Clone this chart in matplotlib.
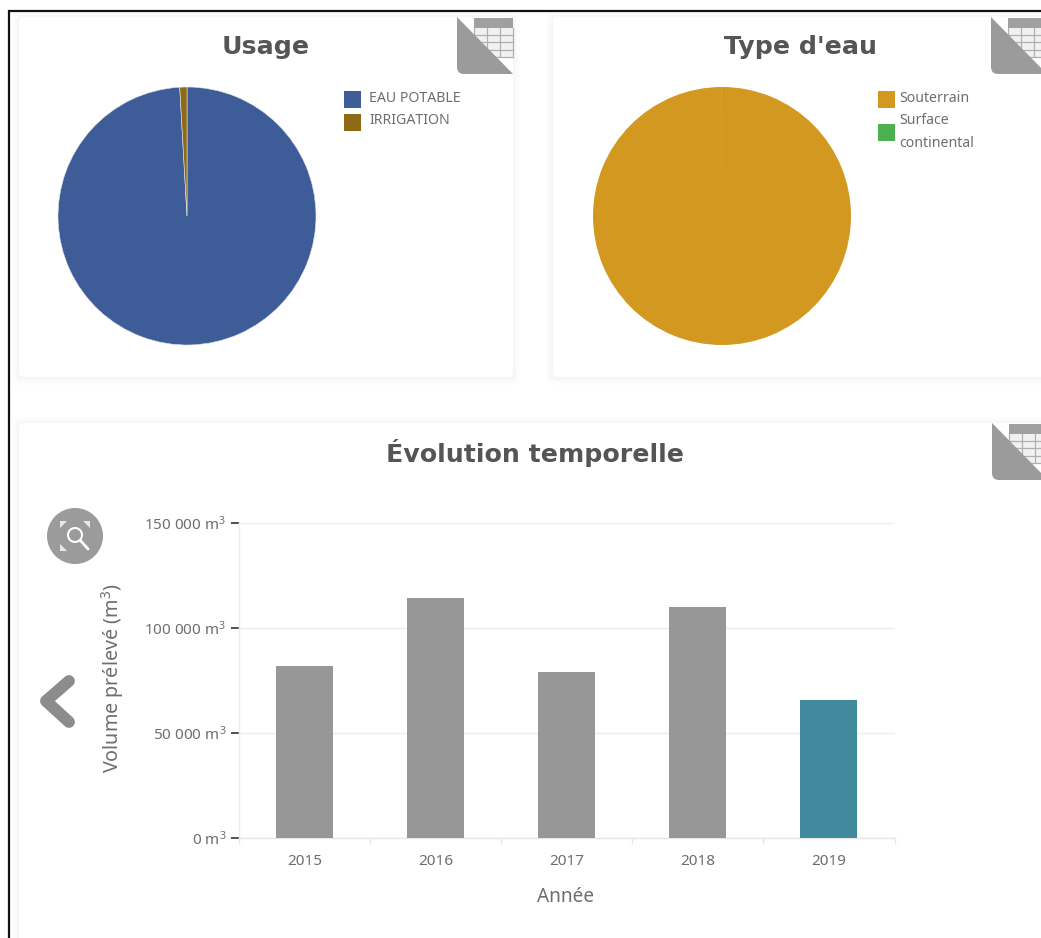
import matplotlib
matplotlib.use('Agg')
import matplotlib.pyplot as plt
from matplotlib.patches import Circle, FancyBboxPatch, Polygon, Rectangle

W, H = 1041, 938

usage_labels = ['EAU POTABLE', 'IRRIGATION']
usage_values = [99.1, 0.9]
usage_colors = ['#3d5c98', '#8f6a14']

water_labels = ['Souterrain', 'Surface\ncontinental']
water_values = [99.98, 0.02]
water_colors = ['#d3981f', '#4caf50']

years = ['2015', '2016', '2017', '2018', '2019']
volumes = [81900, 114300, 79000, 110000, 65700]
bar_colors = ['#979797', '#979797', '#979797', '#979797', '#418a9d']
y_ticks = [0, 50000, 100000, 150000]
y_tick_labels = ['0 m$^3$', '50 000 m$^3$', '100 000 m$^3$', '150 000 m$^3$']

TEXT = '#6e6e6e'
TITLE = '#555555'
GREY = '#9b9b9b'

plt.rcParams['mathtext.default'] = 'regular'
plt.rcParams['font.family'] = ['Noto Sans', 'DejaVu Sans']


def px_axes(left, top, right, bottom):
    # axes placed from pixel coordinates, y counted from the top
    return fig.add_axes([left / W, 1 - bottom / H, (right - left) / W, (bottom - top) / H])


def card(x0, y0, x1, y1):
    # soft shadow made of stacked translucent boxes
    for grow, alpha in [(7, 0.006), (5, 0.008), (3, 0.010), (1, 0.012)]:
        bg.add_patch(FancyBboxPatch((x0 - grow, y0 - grow + 1), x1 - x0 + 2 * grow, y1 - y0 + 2 * grow,
                                    boxstyle='round,pad=0,rounding_size=6', fc='black', ec='none',
                                    alpha=alpha, zorder=1))
    bg.add_patch(FancyBboxPatch((x0, y0), x1 - x0, y1 - y0, boxstyle='round,pad=0,rounding_size=5',
                                fc='white', ec='none', zorder=2))


def table_icon(x, y):
    # folded corner with a small table behind it
    bg.add_patch(Rectangle((x + 17, y + 1), 39, 10, fc='#a0a0a0', ec='none', zorder=3))
    bg.add_patch(Rectangle((x + 17, y + 11), 39, 29, fc='#f1f1f1', ec='none', zorder=3))
    for k in range(1, 5):
        bg.plot([x + 17, x + 56], [y + 11 + k * 7.2] * 2, color='#b0b0b0', lw=0.9, zorder=4)
    for k in range(0, 4):
        bg.plot([x + 17 + k * 13] * 2, [y + 11, y + 40], color='#b0b0b0', lw=0.9, zorder=4)
    fold = FancyBboxPatch((x, y - 10), 70, 67, boxstyle='round,pad=0,rounding_size=7',
                          fc=GREY, ec='none', zorder=5)
    bg.add_patch(fold)
    fold.set_clip_path(Polygon([(x, y), (x + 56, y + 57), (x, y + 57)], closed=True, transform=bg.transData))


def legend(x, rows, labels, colors, text_x):
    for (sq_y, txt_y), label, color in zip(rows, labels, colors):
        bg.add_patch(Rectangle((x, sq_y), 17, 17, fc=color, ec='none', zorder=3))
        bg.text(text_x, txt_y, label, fontsize=10.2, color=TEXT, va='center', ha='left',
                linespacing=1.65, zorder=3)


def pie(cx, cy, r, values, colors, edge='none'):
    ax = px_axes(cx - r, cy - r, cx + r, cy + r)
    ax.pie(values, colors=colors, startangle=90, counterclock=False, radius=1,
           wedgeprops={'linewidth': 0.4 if edge != 'none' else 0, 'edgecolor': edge})
    ax.set_xlim(-1, 1)
    ax.set_ylim(-1, 1)
    ax.patch.set_alpha(0)


fig = plt.figure(figsize=(W / 100, H / 100), dpi=100, facecolor='white')

bg = fig.add_axes([0, 0, 1, 1])
bg.set_xlim(0, W)
bg.set_ylim(H, 0)
bg.axis('off')

# page frame
bg.plot([9, 9, W + 5], [H + 5, 11, 11], color='#111111', lw=1.6, solid_joinstyle='miter', zorder=6)

card(19, 17, 513, 377)
card(553, 17, W + 30, 377)
card(19, 423, W + 30, H + 30)

table_icon(457, 17)
table_icon(991, 17)
table_icon(992, 423)

title_font = {'fontsize': 18.2, 'fontweight': 'bold', 'color': TITLE, 'ha': 'center', 'va': 'center',
              'family': 'DejaVu Sans', 'zorder': 3}
bg.text(266, 47, 'Usage', **title_font)
bg.text(801, 47, "Type d'eau", **title_font)
bg.text(535, 453, 'Évolution temporelle', **title_font)

pie(187, 216, 129, usage_values, usage_colors, edge='#dfe4ee')
pie(722, 216, 129, water_values, water_colors)

legend(344, [(91, 99), (114, 121)], usage_labels, usage_colors, 369)
legend(878, [(91, 99), (124, 132)], water_labels, water_colors, 899)

# zoom button
bg.add_patch(Circle((75, 536), 28, fc=GREY, ec='none', zorder=3))
bg.add_patch(Circle((75, 535), 7, fc='none', ec='white', lw=1.5, zorder=4))
bg.plot([80, 88], [540, 549], color='white', lw=2, solid_capstyle='round', zorder=4)
for tip, a, b in [((60, 521), (60, 528), (67, 521)),
                  ((90, 521), (90, 528), (83, 521)),
                  ((60, 551), (60, 544), (67, 551))]:
    bg.add_patch(Polygon([tip, a, b], closed=True, fc='#e8e8e8', ec='none', zorder=4))

# back arrow
bg.plot([69, 46, 69], [681, 701, 722], color='#8c8c8c', lw=8.5, solid_capstyle='round',
        solid_joinstyle='round', zorder=3)

# bar chart, y = 0 at pixel 838 and 150 000 at pixel 523
ax = px_axes(239, 523, 894.5, 838)
positions = list(range(len(years)))
ax.bar(positions, volumes, width=0.435, color=bar_colors, zorder=3)
ax.set_xlim(-0.5, 4.5)
ax.set_ylim(0, 150000)
ax.patch.set_alpha(0)

ax.set_yticks(y_ticks)
ax.set_yticklabels(y_tick_labels, fontsize=11, color=TEXT)
ax.tick_params(axis='y', length=5.8, width=1.1, color='#222222', pad=3.4)
ax.grid(axis='y', color='#ececec', lw=1, zorder=0)

ax.set_xticks(positions)
ax.set_xticklabels(years, fontsize=11, color=TEXT)
ax.tick_params(axis='x', length=0, pad=11.5)
ax.set_xticks([p - 0.5 for p in positions] + [4.5], minor=True)
ax.tick_params(axis='x', which='minor', length=4.3, width=1, color='#e6e6e6')

for side in ['top', 'right']:
    ax.spines[side].set_visible(False)
ax.spines['left'].set_color('#eeeeee')
ax.spines['bottom'].set_color('#e6e6e6')
ax.spines['left'].set_linewidth(1)
ax.spines['bottom'].set_linewidth(1)

bg.text(113, 678, 'Volume prélevé (m$^3$)', fontsize=14.2, color=TEXT, rotation=90,
        ha='center', va='center', zorder=3)
bg.text(566, 897, 'Année', fontsize=13.7, color=TEXT, ha='center', va='center', zorder=3)

fig.savefig('out.png', dpi=100)
